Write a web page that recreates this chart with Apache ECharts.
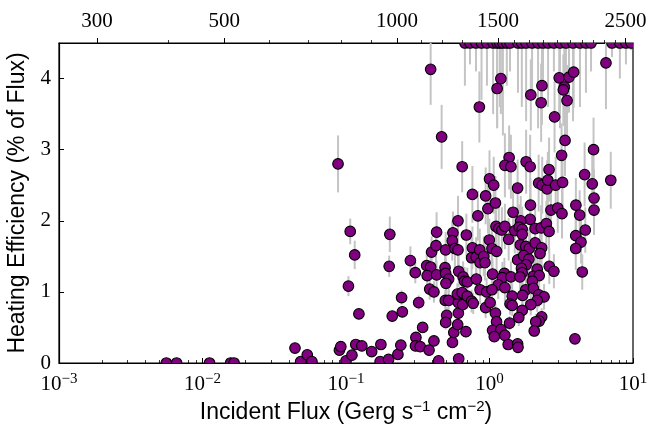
<!DOCTYPE html>
<html>
<head>
    <meta charset="UTF-8">
    <title>Heating Efficiency vs Incident Flux</title>
    <script src="https://cdn.jsdelivr.net/npm/echarts@6/dist/echarts.min.js"></script>
    <style>
        html, body { margin: 0; padding: 0; background: #fff; }
        #main { width: 652px; height: 425px; }
    </style>
</head>
<body>
<div id="main"></div>
<script type="text/javascript">
    // incident flux (Gerg s^-1 cm^-2), heating efficiency (% of flux), 1-sigma error
    var flux = [
        0.0056, 0.0066, 0.0112, 0.0157, 0.0166, 0.0441, 0.0483, 0.0537, 0.0579, 0.090, 0.092, 0.088,
        0.107, 0.115, 0.104, 0.100, 0.110, 0.117, 0.123, 0.129, 0.151, 0.175, 0.173, 0.198, 0.202, 0.200, 0.210,
        0.230, 0.241, 0.244, 0.247, 0.281, 0.304, 0.321, 0.342, 0.307, 0.305, 0.329, 0.379, 0.410, 0.442,
        0.365, 0.389, 0.368, 0.383, 0.410, 0.428, 0.395, 0.424, 0.428, 0.495, 0.490, 0.495, 0.519, 0.497,
        0.492, 0.519, 0.503, 0.495, 0.552, 0.564, 0.600, 0.607, 0.607, 0.597, 0.650, 0.685, 0.610,
        0.556, 0.550, 0.574, 0.603, 0.603, 0.690, 0.610, 0.655, 0.670, 0.700, 0.645, 0.700, 0.750, 0.770,
        0.760, 0.750, 0.807, 0.855, 0.860, 0.912, 0.930, 0.810, 0.860, 0.955, 0.940, 0.830, 0.760, 0.940,
        0.975, 0.997, 0.389, 0.850, 0.464, 0.645,
        1.20, 1.13, 2.32, 1.94, 2.29, 3.06, 3.58, 3.86, 3.32, 3.27, 3.47, 2.84, 6.48, 3.36, 3.18, 5.31, 1.37,
        1.28, 1.41, 1.80, 1.92, 2.60, 4.60, 1.00, 1.07, 1.57, 2.20, 2.33, 2.52, 2.55, 2.89, 3.23, 5.20, 7.00, 5.35,
        1.10, 1.46, 1.93, 1.92, 1.65, 2.68, 2.99, 3.20, 4.00, 5.35, 4.25, 4.65, 3.99, 4.34, 3.99, 4.43, 3.94,
        1.11, 1.16, 1.22, 1.28, 1.50, 1.61, 1.69, 1.69, 2.08, 2.29, 2.49, 2.60, 1.36, 1.04, 1.12, 1.64, 1.79,
        1.89, 2.08, 2.31, 2.25, 1.57, 1.73, 1.88, 1.80, 1.67, 1.69, 2.15, 2.61, 2.81,
        1.05, 1.27, 1.23, 1.41, 1.63, 2.02, 2.22, 1.99, 1.15, 1.28, 1.04, 1.79, 2.02, 2.20, 2.40, 1.70, 1.44,
        2.15, 1.94, 1.39, 1.44, 1.01, 1.10, 1.69, 1.60, 2.31, 2.22, 2.10, 1.12, 1.38, 1.05, 1.20, 1.28, 1.08,
        2.05, 1.35, 1.57, 1.58,
        // off the top of the plot, drawn at the upper edge
        0.674, 0.731, 0.805, 0.88, 0.96, 1.06, 1.13, 1.18, 1.24, 1.32, 1.39, 1.58, 1.68, 1.80, 1.98, 2.18,
        2.36, 2.56, 2.81, 3.10, 3.41, 3.82, 4.27, 4.70, 5.10, 7.14, 8.10, 8.93, 9.70
    ];
    var eff = [
        0, 0, 0, 0, 0, 0.21, 0.02, 0.115, 0.02, 0.18, 0.23, 2.80,
        1.85, 1.52, 1.08, 0.03, 0.11, 0.26, 0.69, 0.24, 0.16, 0.26, 0.02, 0.05, 1.81, 1.36, 0.66,
        0.12, 0.25, 0.92, 0.72, 1.44, 1.27, 0.85, 0.50, 0.36, 0.24, 0.23, 0.18, 0.31, 0.03,
        1.37, 1.35, 1.23, 1.04, 1.00, 1.24, 1.56, 1.65, 1.84, 1.59, 1.34, 1.26, 1.18, 1.12,
        0.88, 0.88, 0.67, 0.57, 0.29, 0.43, 0.54, 0.70, 0.85, 0.97, 0.82, 0.44, 0.06,
        1.83, 1.72, 1.61, 1.59, 2.00, 1.80, 1.29, 1.21, 1.15, 1.14, 0.99, 0.94, 0.87, 0.84,
        1.62, 1.48, 1.49, 1.59, 1.41, 1.50, 1.41, 1.18, 1.03, 1.00, 0.78, 2.07, 2.37, 2.35,
        2.17, 1.73, 4.13, 3.60, 3.18, 2.76,
        4.00, 3.86, 3.90, 3.77, 3.66, 4.01, 4.02, 4.09, 3.88, 3.84, 3.69, 3.46, 4.22, 3.13, 2.92, 3.00, 2.89,
        2.78, 2.76, 2.83, 2.76, 2.72, 2.65, 2.59, 2.50, 2.46, 2.53, 2.50, 2.45, 2.57, 2.50, 2.54, 2.52, 2.57, 2.32,
        2.25, 2.12, 2.22, 2.02, 2.00, 2.15, 2.18, 2.10, 2.22, 2.15, 2.08, 1.87, 1.79, 1.70, 1.61, 1.28, 0.34,
        1.92, 1.89, 1.87, 1.92, 1.86, 1.91, 1.88, 1.81, 1.89, 1.90, 1.96, 1.85, 1.74, 1.61, 1.57, 1.66, 1.64,
        1.61, 1.69, 1.62, 1.54, 1.45, 1.51, 1.46, 1.38, 1.33, 1.27, 1.32, 1.36, 1.29,
        1.25, 1.26, 1.20, 1.21, 1.21, 1.22, 1.23, 1.15, 1.10, 1.06, 1.03, 1.03, 1.05, 0.96, 0.93, 0.95, 0.94,
        0.88, 0.82, 0.83, 0.81, 0.85, 0.70, 0.74, 0.64, 0.65, 0.59, 0.58, 0.58, 0.56, 0.46, 0.47, 0.39, 0.37,
        0.45, 0.26, 0.27, 0.22,
        4.5, 4.5, 4.5, 4.5, 4.5, 4.5, 4.5, 4.5, 4.5, 4.5, 4.5, 4.5, 4.5, 4.5, 4.5, 4.5,
        4.5, 4.5, 4.5, 4.5, 4.5, 4.5, 4.5, 4.5, 4.5, 4.5, 4.5, 4.5, 4.5
    ];
    var err = [
        0.02, 0.02, 0.02, 0.02, 0.02, 0.03, 0.02, 0.03, 0.02, 0.03, 0.04, 0.40,
        0.18, 0.20, 0.14, 0.02, 0.03, 0.04, 0.06, 0.04, 0.03, 0.04, 0.02, 0.02, 0.25, 0.15, 0.05,
        0.03, 0.04, 0.10, 0.08, 0.20, 0.15, 0.10, 0.06, 0.05, 0.04, 0.04, 0.04, 0.05, 0.02,
        0.20, 0.18, 0.18, 0.15, 0.15, 0.20, 0.22, 0.25, 0.28, 0.25, 0.22, 0.20, 0.20, 0.18,
        0.15, 0.15, 0.12, 0.10, 0.05, 0.06, 0.08, 0.10, 0.12, 0.15, 0.12, 0.08, 0.02,
        0.30, 0.28, 0.28, 0.25, 0.35, 0.30, 0.22, 0.22, 0.20, 0.20, 0.18, 0.18, 0.16, 0.15,
        0.30, 0.28, 0.28, 0.30, 0.25, 0.28, 0.25, 0.22, 0.20, 0.20, 0.15, 0.35, 0.40, 0.40,
        0.35, 0.30, 0.50, 0.50, 0.45, 0.36,
        0.50, 0.55, 0.55, 0.50, 0.55, 0.50, 0.50, 0.50, 0.55, 0.50, 0.50, 0.50, 0.65, 0.50, 0.45, 0.45, 0.45,
        0.45, 0.45, 0.45, 0.45, 0.45, 0.45, 0.40, 0.40, 0.40, 0.40, 0.40, 0.40, 0.40, 0.40, 0.40, 0.40, 0.40, 0.40,
        0.38, 0.35, 0.38, 0.35, 0.35, 0.35, 0.35, 0.35, 0.38, 0.35, 0.35, 0.32, 0.30, 0.30, 0.30, 0.25, 0.06,
        0.32, 0.32, 0.32, 0.32, 0.32, 0.32, 0.32, 0.30, 0.32, 0.32, 0.32, 0.30, 0.30, 0.28, 0.28, 0.30, 0.30,
        0.28, 0.30, 0.28, 0.28, 0.26, 0.26, 0.26, 0.25, 0.24, 0.24, 0.24, 0.25, 0.24,
        0.22, 0.22, 0.22, 0.22, 0.22, 0.22, 0.22, 0.20, 0.20, 0.20, 0.20, 0.20, 0.20, 0.18, 0.18, 0.18, 0.18,
        0.16, 0.15, 0.15, 0.15, 0.15, 0.13, 0.13, 0.12, 0.12, 0.11, 0.11, 0.11, 0.10, 0.08, 0.08, 0.07, 0.07,
        0.08, 0.05, 0.05, 0.05,
        0.6, 0.3, 0.4, 0.8, 0.6, 1.0, 1.2, 0.9, 1.3, 0.6, 0.4, 0.7, 0.9, 1.1, 0.8, 1.2,
        0.6, 0.9, 0.4, 1.2, 1.0, 1.1, 0.9, 0.7, 0.4, 0.2, 0.5, 0.3, 0.1
    ];

    // axis ticks
    var fluxTicks = [0.001, 0.01, 0.1, 1, 10];
    var effTicks = [0, 1, 2, 3, 4];
    var tempMajor = [300, 500, 1000, 1500, 2500];
    var tempMinor = [400, 600, 700, 800, 900, 1100, 1200, 1300, 1400, 1600, 1700, 1800, 1900,
        2000, 2100, 2200, 2300, 2400];

    var SIGMA = 5.670e-5; // cgs
    // equilibrium temperature for a flux in Gerg s^-1 cm^-2
    function fluxToTemp(f) {
        return Math.pow(f * 1e9 / (4 * SIGMA), 0.25);
    }

    var fluxMin = fluxTicks[0], fluxMax = fluxTicks[fluxTicks.length - 1];
    var tLo = Math.log10(fluxToTemp(fluxMin)), tHi = Math.log10(fluxToTemp(fluxMax));

    // minor ticks of the log axis, in log10 units
    var minorLog = [];
    for (var d = -3; d < 1; d++) {
        for (var k = 2; k <= 9; k++) minorLog.push(Math.log10(k) + d);
    }

    var points = flux.map(function (f, i) { return [f, eff[i], err[i]]; });

    var serif = 'Liberation Serif';
    var sans = 'Liberation Sans';
    var black = '#000';

    var myChart = echarts.init(document.getElementById('main'));

    // fixed plot rectangle, no automatic shrinking for labels
    var gridRect = {left: 59, right: 19, top: 43, bottom: 62, outerBoundsMode: 'none', containLabel: false};

    var option = {
        animation: false,
        backgroundColor: '#fff',
        grid: [
            Object.assign({show: true, borderColor: black, borderWidth: 1.2}, gridRect),
            Object.assign({show: false}, gridRect)
        ],
        xAxis: [
            {
                type: 'log', gridIndex: 0, position: 'bottom',
                min: fluxMin, max: fluxMax,
                axisLine: {onZero: false, lineStyle: {color: black, width: 1.2}},
                axisTick: {inside: true, length: 5, lineStyle: {color: black, width: 1}},
                splitLine: {show: false},
                axisLabel: {
                    margin: 9,
                    formatter: function (v) {
                        var e = Math.round(Math.log10(v));
                        return '{b|10}{e|' + (e < 0 ? '\u2212' + (-e) : e) + '}';
                    },
                    rich: {
                        b: {fontFamily: serif, fontSize: 21, color: black, lineHeight: 24},
                        e: {fontFamily: serif, fontSize: 15, color: black, lineHeight: 15, verticalAlign: 'top'}
                    }
                },
                name: '{n|Incident Flux (Gerg s}{s|\u22121}{n| cm}{s|\u22122}{n|)}',
                nameLocation: 'middle', nameGap: 32,
                nameTextStyle: {
                    rich: {
                        n: {fontFamily: sans, fontSize: 23, color: black, lineHeight: 26},
                        s: {fontFamily: sans, fontSize: 15, color: black, lineHeight: 15, verticalAlign: 'top'}
                    }
                }
            },
            {
                // equilibrium temperature along the top
                type: 'value', gridIndex: 0, position: 'top',
                min: tLo, max: tHi,
                axisLine: {onZero: false, lineStyle: {color: black, width: 1.2}},
                axisTick: {
                    inside: false, length: 5, lineStyle: {color: black, width: 1},
                    customValues: tempMajor.map(Math.log10)
                },
                axisLabel: {
                    customValues: tempMajor.map(Math.log10),
                    formatter: function (v) { return String(Math.round(Math.pow(10, v))); },
                    fontFamily: serif, fontSize: 21, color: black, margin: 11
                },
                splitLine: {show: false}
            },
            {
                type: 'value', gridIndex: 1, position: 'bottom',
                min: -3, max: 1,
                axisLine: {show: false, onZero: false},
                axisTick: {inside: true, length: 3, lineStyle: {color: black, width: 0.8}, customValues: minorLog},
                axisLabel: {show: false},
                splitLine: {show: false}
            },
            {
                type: 'value', gridIndex: 1, position: 'top',
                min: tLo, max: tHi,
                axisLine: {show: false, onZero: false},
                axisTick: {
                    inside: false, length: 3, lineStyle: {color: black, width: 0.8},
                    customValues: tempMinor.map(Math.log10)
                },
                axisLabel: {show: false},
                splitLine: {show: false}
            }
        ],
        yAxis: [
            {
                type: 'value', gridIndex: 0, min: 0, max: 4.5,
                axisLine: {onZero: false, lineStyle: {color: black, width: 1.2}},
                axisTick: {inside: true, length: 5, lineStyle: {color: black, width: 1}, customValues: effTicks},
                axisLabel: {customValues: effTicks, fontFamily: serif, fontSize: 21, color: black, margin: 8},
                splitLine: {show: false},
                name: 'Heating Efficiency (% of Flux)',
                nameLocation: 'middle', nameGap: 30,
                nameTextStyle: {fontFamily: sans, fontSize: 23, color: black}
            },
            {type: 'value', gridIndex: 1, min: 0, max: 1, show: false}
        ],
        series: [
            {
                // vertical error bars
                type: 'custom', xAxisIndex: 0, yAxisIndex: 0, clip: true, z: 2,
                data: points,
                renderItem: function (params, api) {
                    var x = api.value(0), y = api.value(1), e = api.value(2);
                    var lo = api.coord([x, y - e]);
                    var hi = api.coord([x, y + e]);
                    return {
                        type: 'line',
                        shape: {x1: lo[0], y1: lo[1], x2: hi[0], y2: hi[1]},
                        style: {stroke: '#c4c4c4', lineWidth: 2}
                    };
                }
            },
            {
                type: 'custom', xAxisIndex: 0, yAxisIndex: 0, clip: true, z: 3,
                data: points,
                renderItem: function (params, api) {
                    var p = api.coord([api.value(0), api.value(1)]);
                    return {
                        type: 'circle',
                        shape: {cx: p[0], cy: p[1], r: 5.3},
                        style: {fill: '#800080', stroke: black, lineWidth: 1.1}
                    };
                }
            }
        ]
    };

    myChart.setOption(option);
</script>
</body>
</html>
